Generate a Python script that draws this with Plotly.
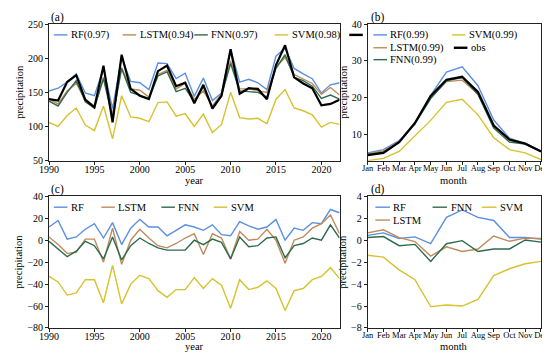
import plotly.graph_objects as go

# ---------------- data ----------------
years = list(range(1990, 2023))
months = ["Jan", "Feb", "Mar", "Apr", "May", "Jun", "Jul", "Aug", "Sep", "Oct", "Nov", "Dec"]

# (a) annual precipitation
a_rf = [152, 156, 165, 177, 149, 145, 185, 126, 201, 166, 164, 154, 193, 192, 170, 178, 144,
        171, 138, 149, 213, 165, 169, 164, 154, 203, 215, 185, 177, 170, 149, 161, 164]
a_lstm = [140, 133, 152, 163, 140, 130, 172, 118, 186, 155, 153, 143, 176, 182, 155, 163, 140,
          152, 130, 148, 196, 155, 155, 153, 150, 187, 201, 176, 170, 163, 147, 157, 146]
a_fnn = [137, 130, 150, 167, 136, 127, 170, 112, 185, 150, 146, 141, 174, 180, 151, 156, 136,
         158, 128, 145, 192, 152, 151, 150, 143, 185, 205, 172, 167, 159, 141, 146, 140]
a_svm = [106, 100, 116, 127, 102, 94, 130, 82, 145, 114, 112, 107, 135, 136, 115, 119, 100,
         118, 91, 103, 150, 113, 111, 112, 104, 140, 154, 127, 123, 117, 99, 106, 103]
a_obs = [140, 138, 165, 175, 139, 128, 189, 106, 205, 155, 145, 140, 181, 189, 159, 164, 134,
         161, 126, 145, 213, 148, 156, 155, 140, 190, 219, 172, 163, 156, 131, 133, 139]

# (b) monthly precipitation
b_rf = [5.1, 6.0, 8.4, 13.0, 20.7, 27.0, 28.4, 23.3, 14.0, 9.1, 7.6, 5.6]
b_lstm = [4.9, 5.6, 8.2, 13.3, 20.0, 24.4, 24.8, 21.1, 12.3, 8.4, 7.6, 5.6]
b_fnn = [4.7, 5.3, 8.0, 12.9, 19.8, 24.6, 25.5, 20.9, 11.8, 8.0, 7.5, 5.5]
b_svm = [3.0, 3.6, 5.5, 9.7, 13.9, 18.8, 19.6, 15.4, 9.2, 6.0, 5.1, 3.3]
b_obs = [4.5, 5.1, 8.0, 13.2, 20.5, 24.9, 25.7, 21.6, 12.5, 8.7, 7.6, 5.5]

# (c) annual error
c_rf = [12, 18, 1, 3, 10, 15, 2, 16, -4, 11, 19, 12, 12, 4, 9, 14, 12, 9, 14, 5, 4, 17, 13, 10,
        12, 19, 0, 11, 9, 16, 15, 28, 25]
c_lstm = [3, -4, -12, -11, 1, 1, -20, 11, -22, 0, 10, 2, -5, -7, -3, 2, 6, -13, 6, 2, -17, 8, 0,
          1, 10, 0, -21, 0, 3, 11, 15, 23, 6]
c_fnn = [-1, -8, -15, -10, -1, -5, -17, 3, -18, -5, 2, -3, -7, -9, -9, -9, 0, -4, 1, -2, -17, 3,
         -6, -5, 2, 3, -16, -5, -3, 2, 0, 14, 2]
c_svm = [-33, -38, -50, -48, -36, -36, -57, -23, -58, -40, -32, -35, -46, -52, -45, -45, -34, -44,
         -35, -41, -62, -36, -45, -43, -37, -44, -64, -46, -44, -36, -33, -25, -35]

# (d) monthly error
d_rf = [0.44, 0.67, 0.16, 0.30, -0.32, 2.08, 2.76, 2.08, 1.80, 0.24, 0.24, 0.10]
d_lstm = [0.67, 0.95, 0.24, -0.12, -1.45, -0.60, -1.03, -0.80, 0.38, -0.10, 0.19, 0.16]
d_fnn = [0.24, 0.33, -0.50, -0.38, -1.93, -0.32, -0.04, -1.03, -0.80, -0.80, 0.02, -0.18]
d_svm = [-1.37, -1.54, -2.70, -3.60, -6.05, -5.90, -6.00, -5.40, -3.23, -2.60, -2.15, -1.93]

legend_a = ["RF(0.97)", "LSTM(0.94)", "FNN(0.97)", "SVM(0.98)", "obs"]
legend_b = ["RF(0.99)", "LSTM(0.99)", "FNN(0.99)", "SVM(0.99)", "obs"]
legend_c = ["RF", "LSTM", "FNN", "SVM"]
legend_d = ["RF", "LSTM", "FNN", "SVM"]

# ---------------- style ----------------
C_RF = "#5b8fe0"
C_LSTM = "#bf8a5c"
C_FNN = "#2e6b4c"
C_SVM = "#d6c22e"
C_OBS = "#000000"
FONT = "Liberation Serif"

W, H = 550, 353
ML, MR, MT, MB = 32, 10, 13, 33
PW, PH = W - ML - MR, H - MT - MB


def px(x):
    return (x - ML) / PW


def py(y):
    return (H - MB - y) / PH


fig = go.Figure()


def add(x, y, color, width, xa, ya):
    fig.add_trace(go.Scatter(x=x, y=y, mode="lines", line=dict(color=color, width=width),
                             xaxis=xa, yaxis=ya, showlegend=False, hoverinfo="x+y"))


for vals, col in [(a_rf, C_RF), (a_lstm, C_LSTM), (a_fnn, C_FNN), (a_svm, C_SVM)]:
    add(years, vals, col, 1.4, "x", "y")
add(years, a_obs, C_OBS, 2.2, "x", "y")

for vals, col in [(b_rf, C_RF), (b_svm, C_SVM), (b_lstm, C_LSTM), (b_fnn, C_FNN)]:
    add(months, vals, col, 1.4, "x2", "y2")
add(months, b_obs, C_OBS, 2.2, "x2", "y2")

for vals, col in [(c_rf, C_RF), (c_lstm, C_LSTM), (c_fnn, C_FNN), (c_svm, C_SVM)]:
    add(years, vals, col, 1.4, "x3", "y3")

for vals, col in [(d_rf, C_RF), (d_lstm, C_LSTM), (d_fnn, C_FNN), (d_svm, C_SVM)]:
    add(months, vals, col, 1.4, "x4", "y4")

axis_common = dict(showline=True, linecolor="#222", linewidth=0.8, mirror=True,
                   ticks="outside", ticklen=3, tickcolor="#222", showgrid=False,
                   zeroline=False)
tick_font = dict(family=FONT, size=10, color="black")
month_font = dict(family=FONT, size=8.5, color="black")
tfont = dict(family=FONT, size=10.5, color="black")

XL0, XL1, XR0, XR1 = 32, 332, 361, 540
YT0, YT1, YB0, YB1 = 13, 151, 187, 320
xl = [px(XL0), px(XL1)]
xr = [px(XR0), px(XR1)]
yt = [py(YT1), py(YT0)]
yb = [py(YB1), py(YB0)]
year_ticks = [1990, 1995, 2000, 2005, 2010, 2015, 2020]
xstand = -4

fig.update_layout(
    width=W, height=H, margin=dict(l=ML, r=MR, t=MT, b=MB),
    paper_bgcolor="white", plot_bgcolor="white",
    xaxis=dict(domain=xl, anchor="y", range=[1990, 2022], tickvals=year_ticks, tickfont=tick_font,
               ticklabelstandoff=xstand, **axis_common),
    yaxis=dict(domain=yt, anchor="x", range=[50, 250], tickvals=[50, 100, 150, 200, 250],
               tickfont=tick_font, title=dict(text="precipitation", font=tfont, standoff=2), **axis_common),
    xaxis2=dict(domain=xr, anchor="y2", type="category", range=[0, 11], tickangle=0,
                tickfont=month_font, ticklabelstandoff=xstand, **axis_common),
    yaxis2=dict(domain=yt, anchor="x2", range=[3, 40], tickvals=[10, 20, 30, 40], tickfont=tick_font,
                title=dict(text="precipitation", font=tfont, standoff=2), **axis_common),
    xaxis3=dict(domain=xl, anchor="y3", range=[1990, 2022], tickvals=year_ticks, tickfont=tick_font,
                ticklabelstandoff=xstand, **axis_common),
    yaxis3=dict(domain=yb, anchor="x3", range=[-80, 40], tickvals=[-80, -60, -40, -20, 0, 20, 40],
                tickfont=tick_font, title=dict(text="precipitation", font=tfont, standoff=2), **axis_common),
    xaxis4=dict(domain=xr, anchor="y4", type="category", range=[0, 11], tickangle=0,
                tickfont=month_font, ticklabelstandoff=xstand, **axis_common),
    yaxis4=dict(domain=yb, anchor="x4", range=[-8, 4], tickvals=[-8, -6, -4, -2, 0, 2, 4],
                tickfont=tick_font, title=dict(text="precipitation", font=tfont, standoff=2), **axis_common),
)

shapes = []
annotations = []


def legend_item(label, color, width, x0, y, length=14, show_text=True):
    shapes.append(dict(type="line", xref="paper", yref="paper", x0=px(x0), x1=px(x0 + length),
                       y0=py(y), y1=py(y), line=dict(color=color, width=width)))
    if show_text:
        annotations.append(dict(text=label, xref="paper", yref="paper", x=px(x0 + length + 1.5),
                                y=py(y), xanchor="left", yanchor="middle", showarrow=False,
                                font=dict(family=FONT, size=10.5, color="black")))


cols5 = [C_RF, C_LSTM, C_FNN, C_SVM, C_OBS]
wid5 = [1.4, 1.4, 1.4, 1.4, 2.4]
# (a) one row, obs text hidden behind panel (b)
for lab, col, w, x0 in zip(legend_a, cols5, wid5, [37, 108, 182, 265, 342]):
    legend_item(lab, col, w, x0, 24, 14, show_text=(lab != "obs"))
# (b) two columns
pos_b = [(367, 24), (367, 37), (367, 49), (448, 24), (450, 37)]
for lab, col, w, (x0, y0) in zip(legend_b, cols5, wid5, pos_b):
    legend_item(lab, col, w, x0, y0, 14)
# (c) one row
for lab, col, x0 in zip(legend_c, cols5, [37, 86, 148, 202]):
    legend_item(lab, col, 1.4, x0, 198, 14)
# (d) three columns
pos_d = [(369, 198), (369, 211), (428, 198), (479, 198)]
for lab, col, (x0, y0) in zip(legend_d, cols5, pos_d):
    legend_item(lab, col, 1.4, x0, y0, 15)

# panel labels
for lab, x0, y0 in [("(a)", XL0, 6), ("(b)", XR0 + 1, 6), ("(c)", XL0, 180), ("(d)", XR0 + 1, 180)]:
    annotations.append(dict(text=lab, xref="paper", yref="paper", x=px(x0), y=py(y0),
                            xanchor="left", yanchor="middle", showarrow=False,
                            font=dict(family=FONT, size=11.5, color="black")))

# x-axis titles
for lab, xc, yc in [("year", (XL0 + XL1) / 2, YT1 + 20), ("month", (XR0 + XR1) / 2, YT1 + 20),
                    ("year", (XL0 + XL1) / 2, YB1 + 19), ("month", (XR0 + XR1) / 2, YB1 + 19)]:
    annotations.append(dict(text=lab, xref="paper", yref="paper", x=px(xc), y=py(yc),
                            xanchor="center", yanchor="middle", showarrow=False, font=tfont))

fig.update_layout(shapes=shapes, annotations=annotations)
fig.write_html("out.html")
